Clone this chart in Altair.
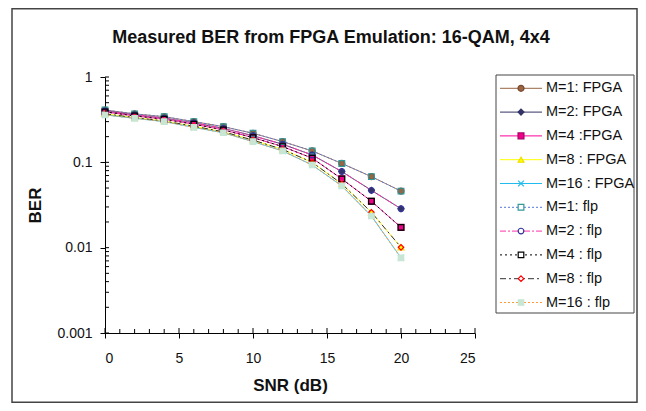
import altair as alt
import pandas as pd

# ---------------- data ----------------
snr = [0, 2, 4, 6, 8, 10, 12, 14, 16, 18, 20]

series_names = ["M=1: FPGA", "M=2: FPGA", "M=4 :FPGA", "M=8 : FPGA", "M=16 : FPGA",
                "M=1: flp", "M=2 : flp", "M=4 : flp", "M=8 : flp", "M=16 : flp"]

m1_fpga = [0.41, 0.37, 0.343, 0.300, 0.262, 0.219, 0.175, 0.136, 0.097, 0.068, 0.046]
m2_fpga = [0.40, 0.36, 0.330, 0.290, 0.250, 0.205, 0.163, 0.122, 0.078, 0.047, 0.0286]
m4_fpga = [0.39, 0.35, 0.320, 0.280, 0.240, 0.195, 0.153, 0.112, 0.064, 0.035, 0.0173]
m8_fpga = [0.37, 0.335, 0.305, 0.265, 0.228, 0.182, 0.142, 0.100, 0.056, 0.026, 0.0101]
m16_fpga = [0.36, 0.328, 0.300, 0.257, 0.222, 0.175, 0.136, 0.093, 0.053, 0.0235, 0.0076]

m1_flp = [0.41, 0.37, 0.343, 0.300, 0.262, 0.219, 0.175, 0.136, 0.097, 0.068, 0.046]
m2_flp = [0.40, 0.36, 0.330, 0.290, 0.250, 0.205, 0.163, 0.122, 0.078, 0.047, 0.0286]
m4_flp = [0.39, 0.35, 0.320, 0.280, 0.240, 0.195, 0.153, 0.112, 0.064, 0.035, 0.0173]
m8_flp = [0.37, 0.335, 0.305, 0.265, 0.228, 0.182, 0.142, 0.100, 0.056, 0.026, 0.0101]
m16_flp = [0.36, 0.328, 0.300, 0.257, 0.222, 0.175, 0.136, 0.093, 0.053, 0.0235, 0.0076]

all_values = [m1_fpga, m2_fpga, m4_fpga, m8_fpga, m16_fpga,
              m1_flp, m2_flp, m4_flp, m8_flp, m16_flp]

x_major = [0, 5, 10, 15, 20, 25]
x_minor = [v for v in range(0, 26) if v % 5 != 0]
y_major = [0.001, 0.01, 0.1, 1]
y_minor = [0.002, 0.003, 0.004, 0.005, 0.006, 0.007, 0.008, 0.009,
           0.02, 0.03, 0.04, 0.05, 0.06, 0.07, 0.08, 0.09,
           0.2, 0.3, 0.4, 0.5, 0.6, 0.7, 0.8, 0.9]

title_text = "Measured BER from FPGA Emulation: 16-QAM, 4x4"

# ---------------- styles ----------------
line_colors = ["#996644", "#333366", "#FF0099", "#FFFF00", "#22BBEE",
               "#5577DD", "#FF33AA", "#000000", "#333333", "#FF9933"]
dashes = [[1, 0], [1, 0], [1, 0], [1, 0], [1, 0],
          [2, 2], [6, 2, 2, 2], [2, 3], [6, 3, 2, 3], [2, 2]]
x_path = "M-1,-1L1,1M-1,1L1,-1"
shapes = ["circle", "diamond", "square", "triangle-up", x_path,
          "square", "circle", "square", "diamond", "square"]
fills = ["#996644", "#333366", "#EE0088", "#FFFF00", "transparent",
         "transparent", "transparent", "transparent", "transparent", "#C8E6D4"]
strokes = ["#7A4A30", "#333366", "#AA0066", "#EEDD00", "#22BBEE",
           "#339999", "#333399", "#000000", "#FF0000", "#C8E6D4"]
sizes = [36, 30, 40, 40, 40, 50, 50, 40, 50, 50]

rows = []
for name, vals in zip(series_names, all_values):
    for s, b in zip(snr, vals):
        rows.append({"snr": s, "ber": b, "series": name})
df = pd.DataFrame(rows)

legend_df = pd.DataFrame({"series": series_names})

W, H = 370, 256
FONT = "Liberation Sans"

xscale = alt.Scale(domain=[0, 25], nice=False, zero=False)
yscale = alt.Scale(type="log", domain=[0.001, 1], nice=False)

x_axis = alt.Axis(values=x_major, title="SNR (dB)", grid=False, tickSize=5,
                  labelPadding=13, labelFontSize=14, labelColor="#111",
                  domainColor="black", tickColor="black",
                  titleFontSize=17, titleFontWeight="bold", titleColor="#111",
                  titleX=185, titleY=52, titleAlign="center", titleBaseline="middle")
y_axis = alt.Axis(values=y_major, format="~g", title="BER", grid=False, tickSize=5,
                  labelPadding=8, labelFontSize=14, labelColor="#111",
                  domainColor="black", tickColor="black",
                  titleFontSize=17, titleFontWeight="bold", titleColor="#111",
                  titleAngle=270, titleX=-70, titleY=128,
                  titleAlign="center", titleBaseline="middle")

color_enc = alt.Color("series:N", scale=alt.Scale(domain=series_names, range=line_colors), legend=None)
dash_enc = alt.StrokeDash("series:N", scale=alt.Scale(domain=series_names, range=dashes), legend=None)
shape_enc = alt.Shape("series:N", scale=alt.Scale(domain=series_names, range=shapes), legend=None)
fill_enc = alt.Fill("series:N", scale=alt.Scale(domain=series_names, range=fills), legend=None)
stroke_enc = alt.Stroke("series:N", scale=alt.Scale(domain=series_names, range=strokes), legend=None)
size_enc = alt.Size("series:N", scale=alt.Scale(domain=series_names, range=sizes), legend=None)

base = alt.Chart(df)

lines = base.mark_line(strokeWidth=1).encode(
    x=alt.X("snr:Q", scale=xscale, axis=x_axis),
    y=alt.Y("ber:Q", scale=yscale, axis=y_axis),
    color=color_enc,
    strokeDash=dash_enc,
    detail="series:N",
)

points = base.mark_point(opacity=1, strokeWidth=1.2).encode(
    x=alt.X("snr:Q", scale=xscale, axis=x_axis),
    y=alt.Y("ber:Q", scale=yscale, axis=y_axis),
    shape=shape_enc,
    fill=fill_enc,
    stroke=stroke_enc,
    size=size_enc,
)

ymaj_in = alt.Chart(pd.DataFrame({"ber": y_major})).mark_rule(color="black").encode(
    y=alt.Y("ber:Q", scale=yscale, axis=y_axis), x=alt.value(0), x2=alt.value(4))
ymin_in = alt.Chart(pd.DataFrame({"ber": y_minor})).mark_rule(color="black").encode(
    y=alt.Y("ber:Q", scale=yscale, axis=y_axis), x=alt.value(0), x2=alt.value(4))
xmaj_in = alt.Chart(pd.DataFrame({"snr": x_major})).mark_rule(color="black").encode(
    x=alt.X("snr:Q", scale=xscale, axis=x_axis), y=alt.value(H), y2=alt.value(H - 5))
xmin_in = alt.Chart(pd.DataFrame({"snr": x_minor})).mark_rule(color="black").encode(
    x=alt.X("snr:Q", scale=xscale, axis=x_axis), y=alt.value(H), y2=alt.value(H - 4))

main = alt.layer(lines, points, ymaj_in, ymin_in, xmaj_in, xmin_in)

# outer frame and title
one = pd.DataFrame({"t": [title_text]})
frame = alt.Chart(one).mark_rect(fillOpacity=0, stroke="#444", strokeWidth=1.5).encode(
    x=alt.value(-93), x2=alt.value(532), y=alt.value(-68.2), y2=alt.value(325.2))
title = alt.Chart(one).mark_text(fontSize=18, fontWeight="bold", color="#111",
                                 align="center", baseline="middle").encode(
    x=alt.value(226), y=alt.value(-39), text="t:N")

# legend
leg_y = alt.Y("series:N", scale=alt.Scale(type="point", domain=series_names,
                                          range=[11.3, 225.5], padding=0), axis=None)
leg_base = alt.Chart(legend_df)
leg_box = alt.Chart(one).mark_rect(fillOpacity=0, stroke="#444", strokeWidth=1).encode(
    x=alt.value(391), x2=alt.value(529), y=alt.value(-2), y2=alt.value(236))
leg_lines = leg_base.mark_rule(strokeWidth=1).encode(
    x=alt.value(395), x2=alt.value(437), y=leg_y, color=color_enc, strokeDash=dash_enc)
leg_under = leg_base.mark_point(filled=True, opacity=1, color="white").encode(
    x=alt.value(416), y=leg_y, shape=shape_enc, size=size_enc)
leg_pts = leg_base.mark_point(opacity=1, strokeWidth=1.2).encode(
    x=alt.value(416), y=leg_y, shape=shape_enc, fill=fill_enc, stroke=stroke_enc, size=size_enc)
leg_text = leg_base.mark_text(align="left", baseline="middle", fontSize=14.5, color="#111").encode(
    x=alt.value(441), y=leg_y, text="series:N")
legend = alt.layer(leg_box, leg_lines, leg_under, leg_pts, leg_text)

chart = alt.layer(frame, title, main, legend).resolve_scale(y="independent").properties(
    width=W, height=H,
    autosize=alt.AutoSizeParams(type="none"),
    padding={"left": 97, "top": 69, "right": 163, "bottom": 70},
).configure(font=FONT).configure_view(stroke=None).configure_legend(disable=True)

chart.save("out.html", embed_options={"renderer": "svg", "actions": False})
